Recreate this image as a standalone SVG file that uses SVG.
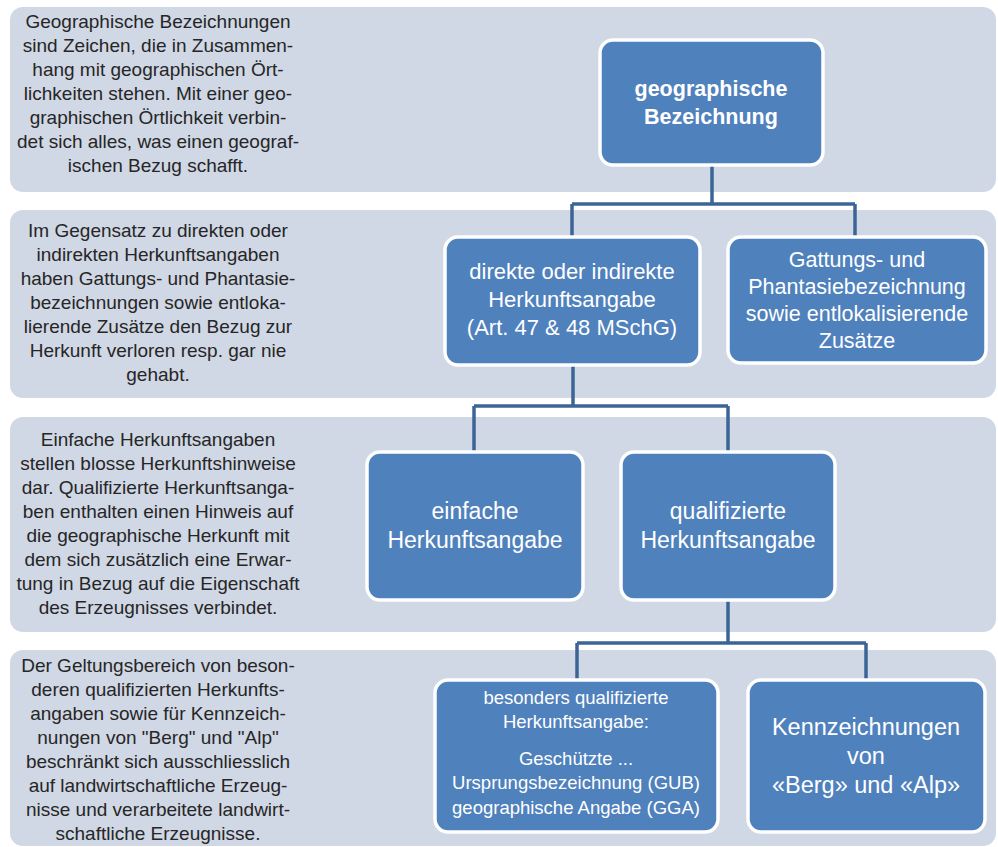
<svg xmlns="http://www.w3.org/2000/svg" width="998" height="847" viewBox="0 0 998 847">
  <style>
    .band { fill: #d0d7e5; }
    .node rect { fill: #4f81bd; stroke: #ffffff; stroke-width: 3.5; }
    .note { font-family: "Liberation Sans", Arial, sans-serif; font-size: 19px; fill: #262626; text-anchor: middle; }
    .lbl { font-family: "Liberation Sans", Arial, sans-serif; fill: #ffffff; text-anchor: middle; }
    .conn { fill: none; stroke: #3b6596; stroke-width: 3.5; stroke-linejoin: miter; }
  </style>

  <rect width="998" height="847" fill="#ffffff"/>

  <!-- horizontal bands -->
  <g id="bands">
    <rect class="band" x="10" y="7" width="986" height="185" rx="13"/>
    <rect class="band" x="10" y="210" width="986" height="188" rx="13"/>
    <rect class="band" x="10" y="417" width="986" height="215" rx="13"/>
    <rect class="band" x="10" y="650" width="986" height="196" rx="13"/>
  </g>

  <!-- explanatory notes -->
  <g id="note-1">
    <text class="note" x="158" y="28">Geographische Bezeichnungen</text>
    <text class="note" x="158" y="52">sind Zeichen, die in Zusammen-</text>
    <text class="note" x="158" y="76">hang mit geographischen Ört-</text>
    <text class="note" x="158" y="100">lichkeiten stehen. Mit einer geo-</text>
    <text class="note" x="158" y="124">graphischen Örtlichkeit verbin-</text>
    <text class="note" x="158" y="148">det sich alles, was einen geograf-</text>
    <text class="note" x="158" y="172">ischen Bezug schafft.</text>
  </g>
  <g id="note-2">
    <text class="note" x="158" y="237">Im Gegensatz zu direkten oder</text>
    <text class="note" x="158" y="261">indirekten Herkunftsangaben</text>
    <text class="note" x="158" y="285">haben Gattungs- und Phantasie-</text>
    <text class="note" x="158" y="309">bezeichnungen sowie entloka-</text>
    <text class="note" x="158" y="333">lierende Zusätze den Bezug zur</text>
    <text class="note" x="158" y="357">Herkunft verloren resp. gar nie</text>
    <text class="note" x="158" y="381">gehabt.</text>
  </g>
  <g id="note-3">
    <text class="note" x="158" y="446">Einfache Herkunftsangaben</text>
    <text class="note" x="158" y="470">stellen blosse Herkunftshinweise</text>
    <text class="note" x="158" y="494">dar. Qualifizierte Herkunftsanga-</text>
    <text class="note" x="158" y="518">ben enthalten einen Hinweis auf</text>
    <text class="note" x="158" y="542">die geographische Herkunft mit</text>
    <text class="note" x="158" y="566">dem sich zusätzlich eine Erwar-</text>
    <text class="note" x="158" y="590">tung in Bezug auf die Eigenschaft</text>
    <text class="note" x="158" y="614">des Erzeugnisses verbindet.</text>
  </g>
  <g id="note-4">
    <text class="note" x="158" y="672">Der Geltungsbereich von beson-</text>
    <text class="note" x="158" y="696">deren qualifizierten Herkunfts-</text>
    <text class="note" x="158" y="720">angaben sowie für Kennzeich-</text>
    <text class="note" x="158" y="744">nungen von "Berg" und "Alp"</text>
    <text class="note" x="158" y="768">beschränkt sich ausschliesslich</text>
    <text class="note" x="158" y="792">auf landwirtschaftliche Erzeug-</text>
    <text class="note" x="158" y="816">nisse und verarbeitete landwirt-</text>
    <text class="note" x="158" y="840">schaftliche Erzeugnisse.</text>
  </g>

  <!-- connectors -->
  <g id="connectors">
    <path class="conn" d="M712,165 V204 M572,204 H855 M572,204 V237 M855,204 V237"/>
    <path class="conn" d="M573,365 V406 M474,406 H728 M474,406 V452 M728,406 V452"/>
    <path class="conn" d="M728,600 V643 M577,643 H866 M577,643 V680 M866,643 V680"/>
  </g>

  <!-- hierarchy nodes -->
  <g id="node-geo" class="node">
    <rect x="600" y="40" width="223" height="125" rx="13"/>
    <text class="lbl" x="711" y="96" font-size="21.5" font-weight="bold">geographische</text>
    <text class="lbl" x="711" y="124" font-size="21.5" font-weight="bold">Bezeichnung</text>
  </g>
  <g id="node-direkt" class="node">
    <rect x="445" y="237" width="255" height="128" rx="13"/>
    <text class="lbl" x="572" y="279" font-size="22">direkte oder indirekte</text>
    <text class="lbl" x="572" y="307" font-size="22">Herkunftsangabe</text>
    <text class="lbl" x="572" y="335" font-size="22">(Art. 47 &amp; 48 MSchG)</text>
  </g>
  <g id="node-gattung" class="node">
    <rect x="728" y="237" width="258" height="126" rx="13"/>
    <text class="lbl" x="857" y="267" font-size="21.5">Gattungs- und</text>
    <text class="lbl" x="857" y="294" font-size="21.5">Phantasiebezeichnung</text>
    <text class="lbl" x="857" y="321" font-size="21.5">sowie entlokalisierende</text>
    <text class="lbl" x="857" y="348" font-size="21.5">Zusätze</text>
  </g>
  <g id="node-einfach" class="node">
    <rect x="367" y="452" width="216" height="148" rx="13"/>
    <text class="lbl" x="475" y="519" font-size="23">einfache</text>
    <text class="lbl" x="475" y="548" font-size="23">Herkunftsangabe</text>
  </g>
  <g id="node-qualifiziert" class="node">
    <rect x="621" y="452" width="214" height="148" rx="13"/>
    <text class="lbl" x="728" y="519" font-size="23">qualifizierte</text>
    <text class="lbl" x="728" y="548" font-size="23">Herkunftsangabe</text>
  </g>
  <g id="node-besonders" class="node">
    <rect x="435" y="680" width="283" height="152" rx="13"/>
    <text class="lbl" x="576" y="704" font-size="18.5">besonders qualifizierte</text>
    <text class="lbl" x="576" y="728" font-size="18.5">Herkunftsangabe:</text>
    <text class="lbl" x="576" y="765" font-size="18.5">Geschützte ...</text>
    <text class="lbl" x="576" y="789" font-size="18.5">Ursprungsbezeichnung (GUB)</text>
    <text class="lbl" x="576" y="814" font-size="18.5">geographische Angabe (GGA)</text>
  </g>
  <g id="node-berg-alp" class="node">
    <rect x="748" y="680" width="237" height="152" rx="13"/>
    <text class="lbl" x="866" y="735" font-size="23.5">Kennzeichnungen</text>
    <text class="lbl" x="866" y="764" font-size="23.5">von</text>
    <text class="lbl" x="866" y="793" font-size="23.5">«Berg» und «Alp»</text>
  </g>
</svg>
